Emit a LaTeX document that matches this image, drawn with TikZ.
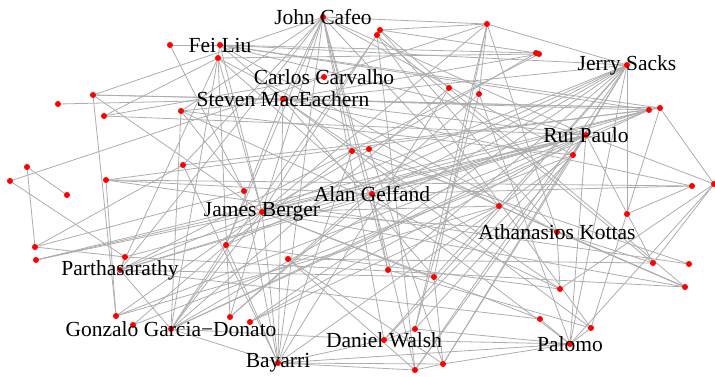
\documentclass[tikz,border=0pt]{standalone}
\usepackage{fontspec}
\setmainfont{Liberation Serif}
\usepackage{tikz}

\tikzset{
  edge/.style={draw=black!32, line width=0.8pt},
  dot/.style={circle, fill=red, inner sep=0pt, minimum size=6pt},
  lbl/.style={inner sep=0pt, font=\fontsize{21.5}{23}\selectfont}
}

\begin{document}
\begin{tikzpicture}[x=1pt,y=-1pt]
		\useasboundingbox (0,0) rectangle (715,376);
		% labelled vertices
		\coordinate (jc) at (323,17);
		\coordinate (fl) at (220,45);
		\coordinate (cc) at (324,77);
		\coordinate (sm) at (283,99);
		\coordinate (js) at (627,65);
		\coordinate (rp) at (586,135);
		\coordinate (ag) at (372,194);
		\coordinate (jb) at (262,212);
		\coordinate (ak) at (557,232);
		\coordinate (pa) at (120,270);
		\coordinate (gg) at (171,329);
		\coordinate (dw) at (384,340);
		\coordinate (pm) at (570,344);
		\coordinate (by) at (278,363);
		% other vertices, left half
		\coordinate (a1) at (170,45);
		\coordinate (a2) at (218,58);
		\coordinate (a3) at (93,95);
		\coordinate (a4) at (58,104);
		\coordinate (a5) at (104,116);
		\coordinate (a6) at (181,111);
		\coordinate (a7) at (27,167);
		\coordinate (a8) at (10,181);
		\coordinate (a9) at (183,165);
		\coordinate (a10) at (106,180);
		\coordinate (a11) at (244,191);
		\coordinate (a12) at (67,195);
		\coordinate (a13) at (35,247);
		\coordinate (a14) at (36,260);
		\coordinate (a15) at (125,257);
		\coordinate (a16) at (226,245);
		\coordinate (a17) at (288,259);
		\coordinate (a18) at (116,316);
		\coordinate (a19) at (133,325);
		\coordinate (a20) at (230,317);
		\coordinate (a21) at (250,322);
		% other vertices, right half
		\coordinate (b1) at (487,24);
		\coordinate (b2) at (380,30);
		\coordinate (b3) at (377,35);
		\coordinate (b4) at (536,53);
		\coordinate (b5) at (539,54);
		\coordinate (b6) at (449,88);
		\coordinate (b7) at (479,94);
		\coordinate (b8) at (649,110);
		\coordinate (b9) at (660,108);
		\coordinate (b10) at (573,155);
		\coordinate (b11) at (352,151);
		\coordinate (b12) at (369,149);
		\coordinate (b13) at (692,186);
		\coordinate (b14) at (714,184);
		\coordinate (b15) at (499,206);
		\coordinate (b16) at (627,214);
		\coordinate (b17) at (388,270);
		\coordinate (b18) at (434,277);
		\coordinate (b19) at (653,263);
		\coordinate (b20) at (689,264);
		\coordinate (b21) at (685,287);
		\coordinate (b22) at (560,289);
		\coordinate (b23) at (540,319);
		\coordinate (b24) at (591,328);
		\coordinate (b25) at (415,329);
		\coordinate (b26) at (415,370);
		\coordinate (b27) at (443,364);

		% edges
		\foreach \a/\b in {jc/a3,jc/a6,jc/b1,jc/sm,jc/jb,jc/a9,jc/ag,jc/by,jc/b11,jc/rp,
			jc/b15,jc/pa,jc/b17,jc/b10,jc/dw,jc/a16,
			fl/a1,fl/b4,fl/js,fl/sm,fl/rp,fl/b8,fl/jb,fl/gg,fl/ak,fl/b9,
			a2/jb,a2/pa,a2/a5,a2/ag,a2/b15,a2/a20,a2/b5,
			a1/a11,a3/sm,a3/a18,a3/jb,a3/b9,a4/sm,a5/cc,a5/rp,
			a6/b10,a6/a11,a6/gg,a6/b22,a6/js,
			a7/a13,a7/a12,a8/cc,a8/a15,a9/a13,a9/b8,a9/by,
			a10/ag,a10/b20,a10/a18,a11/a13,a11/by,a13/a15,
			a14/jb,a14/rp,a15/pa,a15/rp,
			pa/jb,pa/gg,pa/b23,pa/b18,pa/ag,
			a18/jb,a18/b15,a19/a16,a19/b10,
			gg/jb,gg/by,gg/a16,gg/rp,gg/b8,
			a20/jb,a20/ag,a21/b15,a21/js,
			by/jb,by/sm,by/dw,by/b27,by/pm,by/b11,by/a16,by/b26,
			sm/b8,sm/b9,sm/rp,sm/b22,sm/b24,sm/b13,sm/a16,sm/b18,
			cc/b1,b1/b2,b1/js,b1/ak,b1/b7,b1/jb,b1/b18,b1/b25,
			b2/b3,b2/b4,b2/ak,b2/b21,b2/jb,
			b3/b26,b3/gg,b3/b19,b3/b24,
			b4/b5,b5/sm,b4/jb,b5/pa,
			js/b10,js/jb,js/ag,js/b17,js/b18,js/dw,js/b26,js/b16,js/pm,
			js/a16,js/b27,js/gg,
			b6/by,b6/gg,b7/b25,b7/a20,b7/pm,
			b8/rp,b8/jb,b8/ag,b8/b9,b8/a14,b9/b14,b9/b24,b9/a10,
			rp/b10,rp/jb,rp/ag,rp/pa,rp/b14,rp/b27,rp/b26,rp/dw,rp/a18,
			rp/a21,rp/b19,rp/pm,
			b10/by,b10/b25,b11/b12,b11/a16,b11/b20,b12/b21,b12/b27,
			b13/ag,b13/a10,b14/pm,b14/b19,b14/b22,b15/jb,b15/b21,b16/b13,
			ag/b26,ag/pm,ag/b17,ak/jb,ak/b19,ak/b22,ak/b21,
			b17/b24,b18/jb,b18/b27,b19/a17,b21/a15,b21/jb,b22/a16,
			b23/jb,b23/pm,b24/pm,b25/dw,dw/pm,dw/gg,pm/b25,
			b26/b27,b26/a17,b27/a17,b27/pm}
			\draw[edge] (\a) -- (\b);

		% vertices
		\foreach \v in {jc,fl,cc,sm,js,rp,ag,jb,ak,pa,gg,dw,pm,by,
			a1,a2,a3,a4,a5,a6,a7,a8,a9,a10,a11,a12,a13,a14,a15,a16,a17,a18,a19,a20,a21,
			b1,b2,b3,b4,b5,b6,b7,b8,b9,b10,b11,b12,b13,b14,b15,b16,b17,b18,b19,b20,
			b21,b22,b23,b24,b25,b26,b27}
			\node[dot] (\v-v) at (\v) {};

		% labels
		\node[lbl] (jc-l) at (jc) {John Cafeo};
		\node[lbl] (fl-l) at (fl) {Fei Liu};
		\node[lbl] (cc-l) at (cc) {Carlos Carvalho};
		\node[lbl] (sm-l) at (sm) {Steven MacEachern};
		\node[lbl] (js-l) at (js) {Jerry Sacks};
		\node[lbl] (rp-l) at (rp) {Rui Paulo};
		\node[lbl] (ag-l) at (ag) {Alan Gelfand};
		\node[lbl] (jb-l) at (jb) {James Berger};
		\node[lbl] (ak-l) at (ak) {Athanasios Kottas};
		\node[lbl] (pa-l) at (pa) {Parthasarathy};
		\node[lbl] (gg-l) at (gg) {Gonzalo Garcia−Donato};
		\node[lbl] (dw-l) at (dw) {Daniel Walsh};
		\node[lbl] (pm-l) at (pm) {Palomo};
		\node[lbl] (by-l) at (by) {Bayarri};
	\end{tikzpicture}
\end{document}
